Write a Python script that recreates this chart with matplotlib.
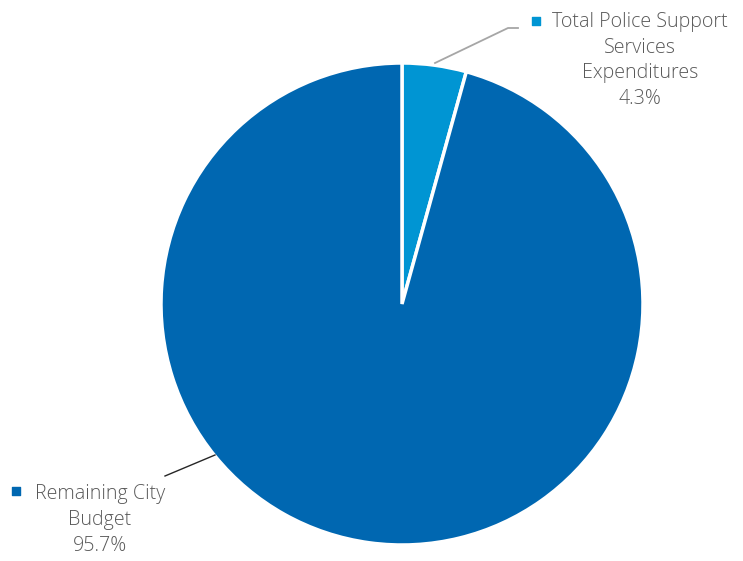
import matplotlib.pyplot as plt

labels = ["Total Police Support\nServices\nExpenditures", "Remaining City\nBudget"]
values = [4.3, 95.7]
colors = ["#0095D3", "#0067B1"]

plt.rcParams['font.family'] = ['Open Sans', 'DejaVu Sans']

fig = plt.figure(figsize=(7.43, 5.61), dpi=100)
ax = fig.add_axes([0, 0, 1, 1])

# pie in pixel-like coords (y up)
ax.pie(values, colors=colors, startangle=90, counterclock=False,
       center=(402, 257), radius=241, frame=True,
       wedgeprops=dict(edgecolor='white', linewidth=2.5))
ax.set_xlim(0, 743)
ax.set_ylim(0, 561)
ax.axis('off')

txt_color = "#595959"
fs = 14.1
fw = 'light'

# small slice label
ax.plot([435, 508, 518], [561 - 63, 561 - 28, 561 - 28], color="#A6A6A6", lw=1.3)
ax.scatter([536], [561 - 21], marker='s', s=40, color=colors[0])
lines_small = labels[0].split("\n") + [f"{values[0]}%"]
for i, t in enumerate(lines_small):
    ax.text(640, 561 - 22 - 25.5 * i, t, ha='center', va='center', fontsize=fs, color=txt_color, fontweight=fw)

# big slice label
ax.plot([215, 165], [561 - 455, 561 - 476], color="#262626", lw=1.0)
ax.scatter([16], [561 - 491], marker='s', s=40, color=colors[1])
lines_big = labels[1].split("\n") + [f"{values[1]}%"]
for i, t in enumerate(lines_big):
    ax.text(100, 561 - 494 - 26 * i, t, ha='center', va='center', fontsize=fs, color=txt_color, fontweight=fw)

fig.savefig("out.png", dpi=100, facecolor='white')
